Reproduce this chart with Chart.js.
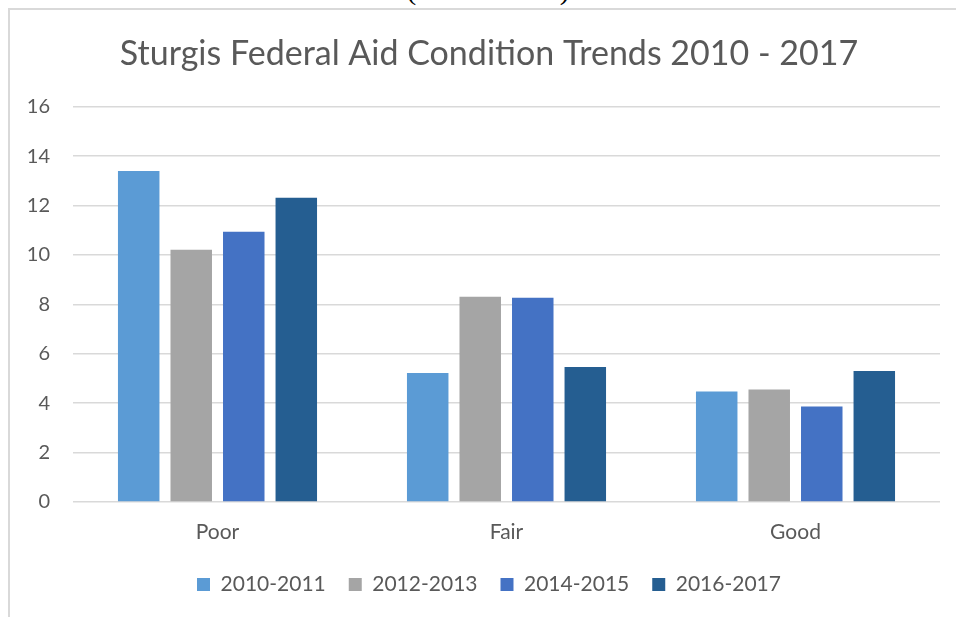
<!DOCTYPE html>
<html>
<head>
<meta charset="utf-8">
<script src="https://cdn.jsdelivr.net/npm/chart.js@4.4.1/dist/chart.umd.min.js"></script>
<style>
  html, body { margin: 0; padding: 0; background: #fff; overflow: hidden; }
  #wrap { position: relative; width: 956px; height: 617px; overflow: hidden; }
  #frame { position: absolute; left: 8px; top: 8px; width: 1000px; height: 700px;
           border-left: 2px solid #d9d9d9; border-top: 2px solid #d9d9d9; pointer-events: none; }
  #above { position: absolute; left: 0; width: 976px; top: -26px; text-align: center;
           font: 30px/30px "Liberation Serif", serif; color: #000; }
  canvas { position: absolute; left: 0; top: 0; }
</style>
</head>
<body>
<div id="wrap">
  <div id="above">(23.08 Miles)</div>
  <div id="frame"></div>
  <canvas id="bars" width="968" height="617"></canvas>
</div>
<script>
// data
const categories = ['Poor', 'Fair', 'Good'];
const seriesNames = ['2010-2011', '2012-2013', '2014-2015', '2016-2017'];
const v2010 = [13.4, 5.22, 4.47];
const v2012 = [10.21, 8.31, 4.55];
const v2014 = [10.94, 8.27, 3.87];
const v2016 = [12.32, 5.47, 5.30];
const yTicks = [0, 2, 4, 6, 8, 10, 12, 14, 16];
const colors = ['#5B9BD5', '#A5A5A5', '#4472C4', '#255E91'];

window.addEventListener('load', graphic);

function graphic() {
    const ctx = document.getElementById('bars').getContext('2d');
    const values = [v2010, v2012, v2014, v2016];
    new Chart(ctx, {
        type: 'bar',
        data: {
            labels: categories,
            datasets: seriesNames.map((name, i) => ({
                label: name,
                data: values[i],
                backgroundColor: colors[i],
                barPercentage: 0.79,
                categoryPercentage: 0.727
            }))
        },
        options: {
            responsive: false,
            animation: false,
            layout: { padding: { left: 10, right: 0, top: 0, bottom: 12 } },
            plugins: {
                title: {
                    display: true,
                    text: 'Sturgis Federal Aid Condition Trends 2010 - 2017',
                    color: '#595959',
                    font: { family: 'Lato', size: 34, weight: 'normal' },
                    padding: { top: 34, bottom: 32 }
                },
                legend: {
                    position: 'bottom',
                    labels: {
                        color: '#595959',
                        font: { family: 'Lato', size: 21 },
                        boxWidth: 13,
                        boxHeight: 13,
                        padding: 23
                    }
                },
                tooltip: { enabled: false }
            },
            scales: {
                x: {
                    grid: { display: false },
                    border: { display: false },
                    afterFit: s => { s.height = 49; },
                    ticks: { color: '#595959', font: { family: 'Lato', size: 21 }, padding: 10 }
                },
                y: {
                    min: 0,
                    max: 16,
                    afterBuildTicks: s => { s.ticks = yTicks.map(v => ({ value: v })); },
                    afterFit: s => { s.width = 63; },
                    grid: { color: '#D9D9D9', lineWidth: 1.5, drawTicks: false },
                    border: { display: false },
                    ticks: { color: '#595959', font: { family: 'Lato', size: 20 }, padding: 23 }
                },
                // empty right-hand gutter, the original frame runs past the window edge
                gutter: {
                    position: 'right',
                    grid: { display: false },
                    border: { display: false },
                    ticks: { display: false },
                    afterFit: s => { s.width = 28; }
                }
            }
        }
    });
}
</script>
</body>
</html>
